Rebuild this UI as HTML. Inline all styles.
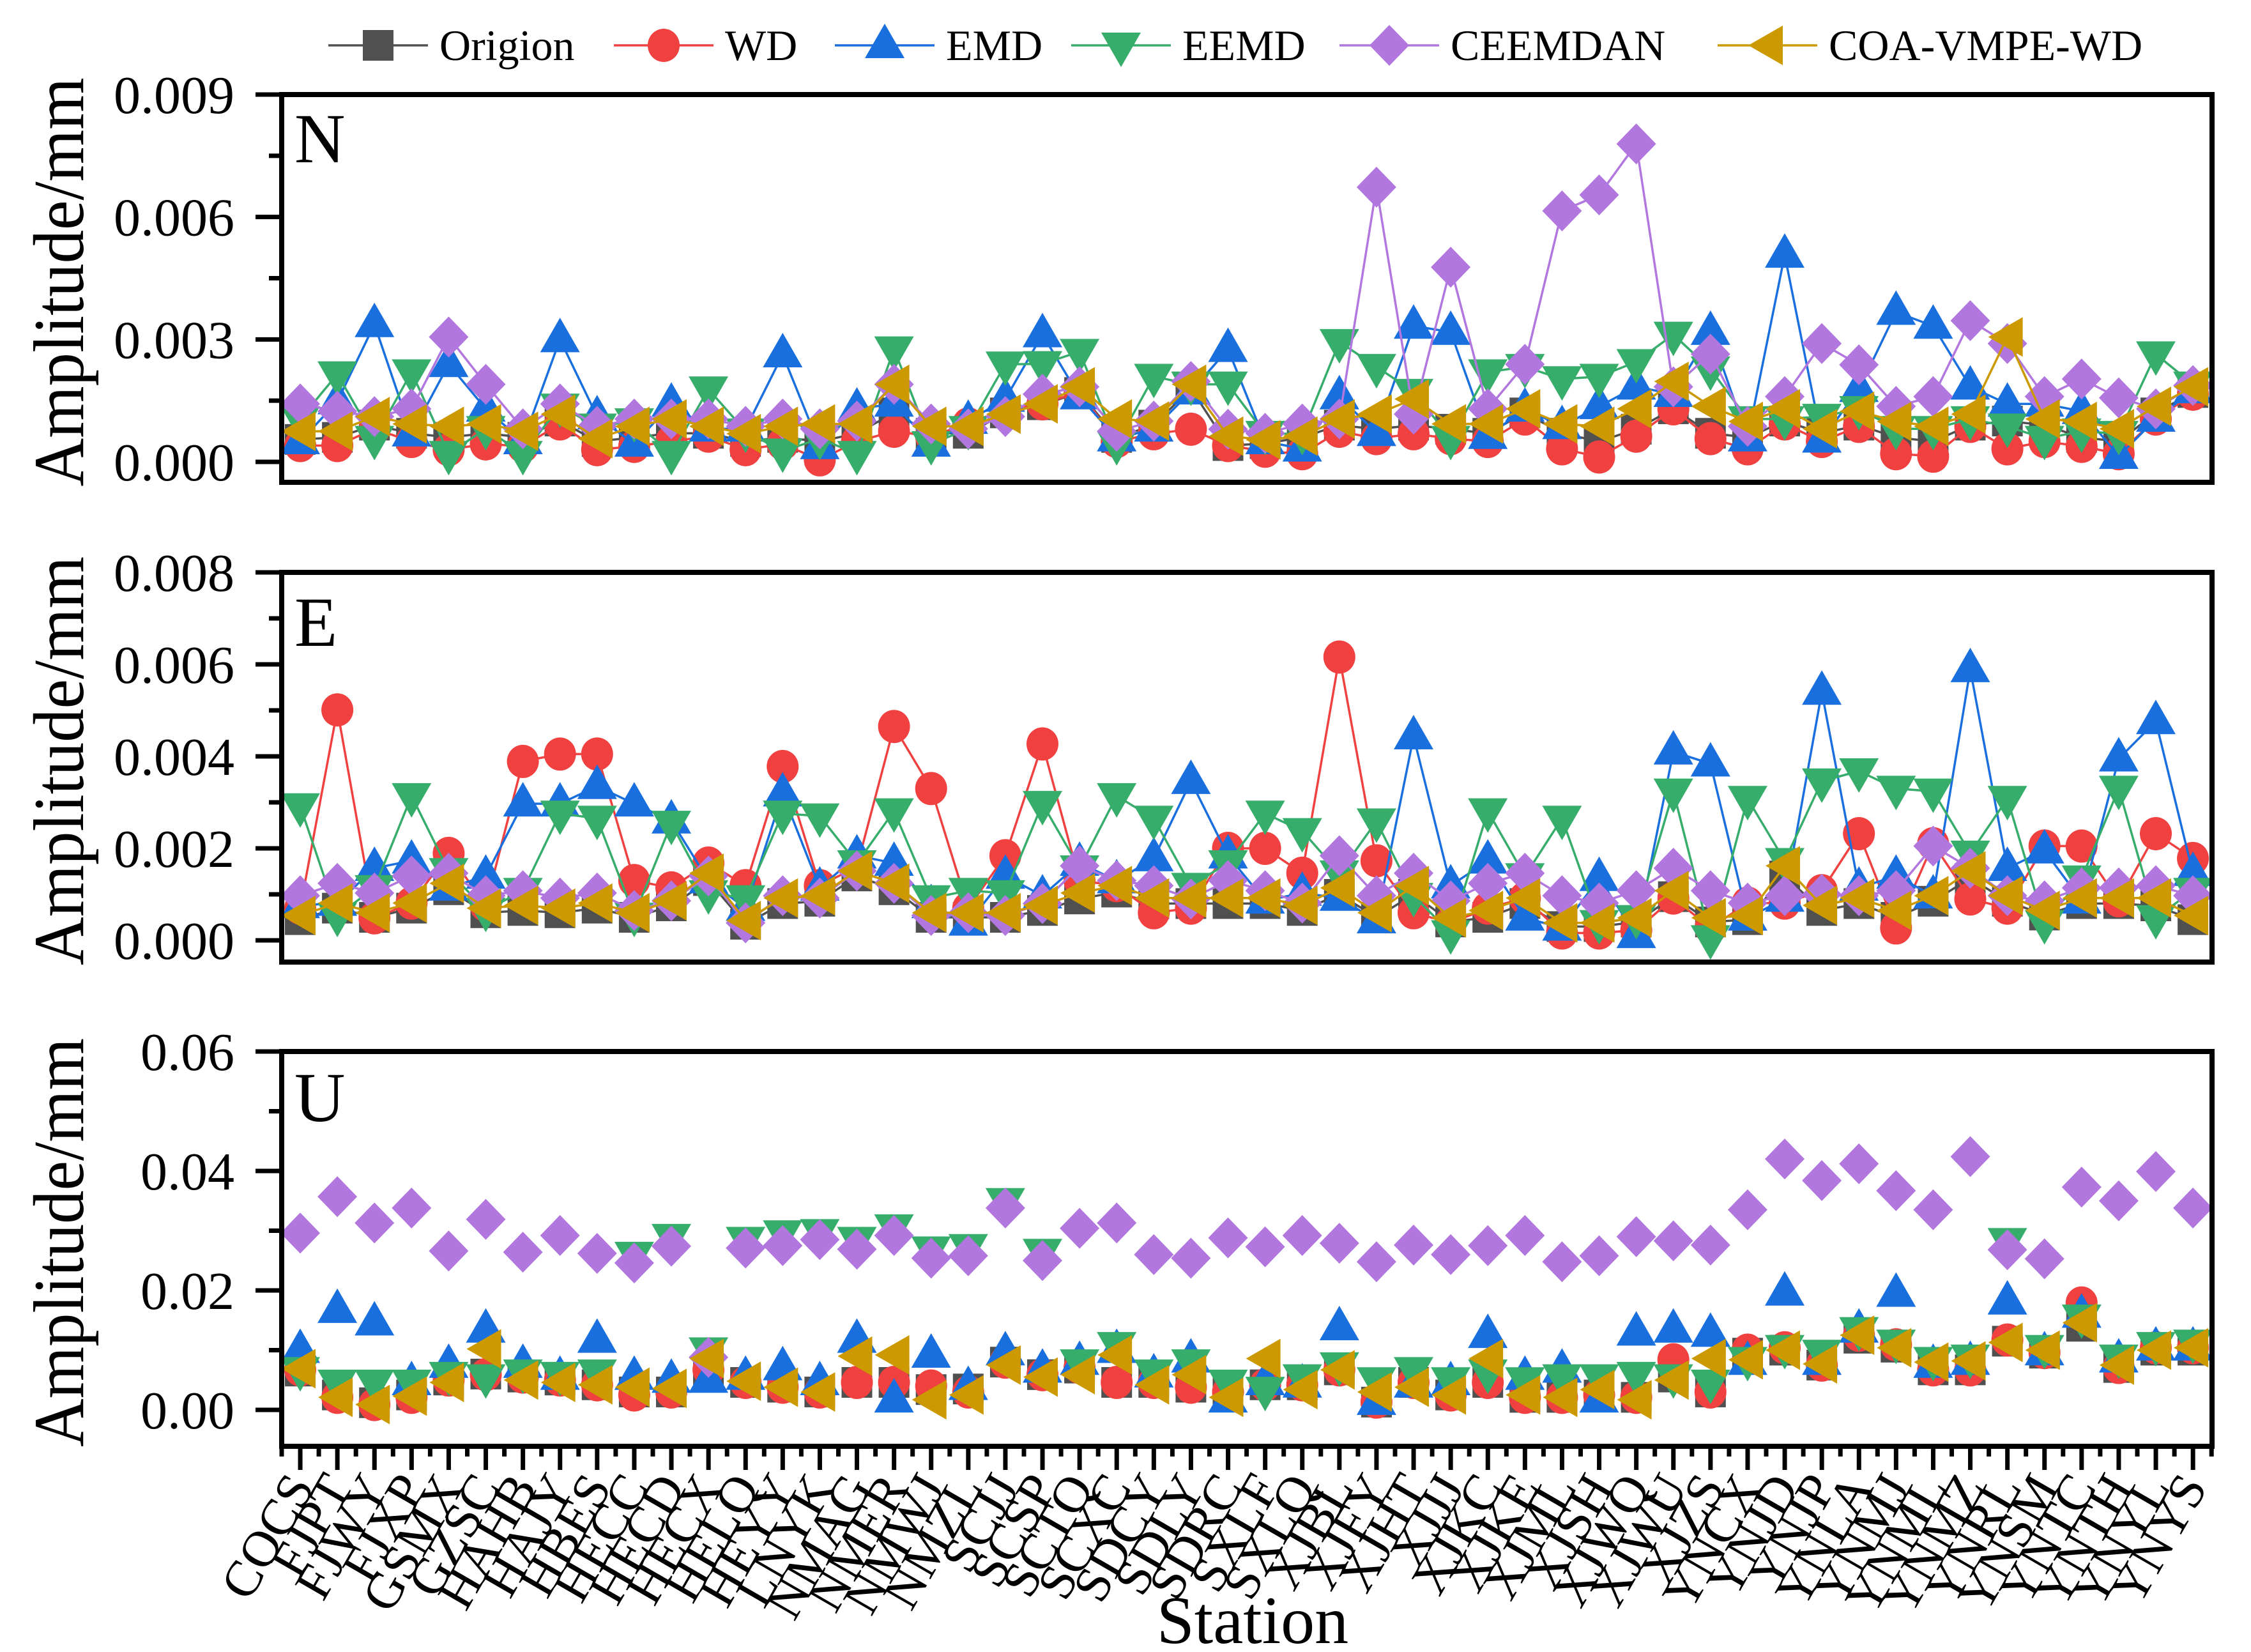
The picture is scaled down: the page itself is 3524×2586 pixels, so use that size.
<!DOCTYPE html>
<html><head><meta charset="utf-8"><title>Amplitude by station</title>
<style>
html,body{margin:0;padding:0;background:#fff;}
svg{display:block;font-family:"Liberation Serif","DejaVu Serif",serif;}
</style></head>
<body>
<svg id="chart" width="3524" height="2586" viewBox="0 0 3524 2586" xmlns="http://www.w3.org/2000/svg">
<rect x="0" y="0" width="3524" height="2586" fill="#fff"/>
<g id="legend"></g>
<g id="panels"></g>
<text x="1961" y="2572" font-size="106" text-anchor="middle">Station</text>
</svg>
<script>
const stations = ["COCS","FJPT","FJWY","FJXP","GSMX","GZSC","HAHB","HAJY","HBES","HECC","HECD","HECX","HELQ","HEYY","LNYK","NMAG","NMER","NMWJ","NMZL","SCJJ","SCSP","SCTQ","SCXC","SDCY","SDLY","SDRC","SXLF","SXLQ","XJBL","XJFY","XJHT","XJJJ","XJKC","XJKE","XJML","XJSH","XJWQ","XJWU","XJZS","YNCX","YNJD","YNJP","YNLA","YNMJ","YNML","YNMZ","YNRL","YNSM","YNTC","YNTH","YNYL","YNYS"];
const seriesNames = ["Origion","WD","EMD","EEMD","CEEMDAN","COA-VMPE-WD"];

// N panel values (x 1e-3 mm)
const nOrigin = [0.55,0.6,0.9,0.7,0.6,0.7,0.6,1.0,0.5,0.6,0.7,0.7,0.5,0.6,0.5,0.7,1.2,0.7,0.7,1.2,1.4,1.7,0.6,0.9,1.8,0.4,0.45,0.6,0.9,0.8,0.9,0.8,0.7,1.2,0.7,0.5,0.8,1.3,0.7,0.6,1.0,0.7,0.9,0.6,0.5,0.9,1.0,0.9,0.6,0.5,1.2,1.7];
const nWD = [0.4,0.4,0.81,0.5,0.3,0.44,0.38,0.93,0.3,0.38,0.5,0.63,0.3,0.44,0.05,0.5,0.75,0.63,0.93,1.3,1.42,1.72,0.5,0.69,0.8,0.4,0.26,0.2,0.75,0.57,0.69,0.57,0.5,1.05,0.32,0.12,0.63,1.3,0.57,0.32,0.93,0.5,0.87,0.2,0.14,0.87,0.32,0.5,0.38,0.2,1.05,1.66];
const nEMD = [0.5,1.48,3.37,0.69,2.39,1.3,0.5,3.0,1.11,0.44,1.42,0.81,0.81,2.63,0.38,1.3,1.42,0.44,1.0,1.54,3.12,1.6,0.57,0.81,1.72,2.76,0.5,0.32,1.6,0.7,3.33,3.18,0.63,1.3,0.87,1.36,1.84,1.66,3.18,0.57,5.07,0.54,1.78,3.67,3.33,1.84,1.42,1.42,1.24,0.14,1.05,1.75];
const nEEMD = [1.05,2.15,0.57,2.2,0.2,0.81,0.2,1.36,0.87,1.0,0.2,1.78,0.75,0.26,0.57,0.2,2.76,0.44,0.81,2.39,2.4,2.7,0.44,2.09,1.9,1.9,0.69,0.69,2.94,2.33,1.72,0.57,2.2,2.33,2.03,2.09,2.45,3.12,2.27,1.05,1.05,1.11,1.3,0.81,0.81,1.05,0.87,0.57,0.75,0.69,2.64,1.9];
const nCEEMDAN = [1.42,1.24,1.11,1.3,3.06,1.9,0.81,1.42,0.87,1.05,1.05,1.05,0.87,1.05,0.81,1.0,1.9,0.93,0.81,1.11,1.66,1.84,0.75,1.0,1.97,0.8,0.7,0.93,1.05,6.73,1.17,4.77,1.3,2.39,6.15,6.54,7.79,1.84,2.64,0.87,1.6,2.9,2.38,1.36,1.6,3.46,2.9,1.6,2.03,1.57,1.3,1.87];
const nCOA = [0.75,0.75,1.11,0.93,0.87,0.93,0.75,1.17,0.57,0.87,1.05,0.87,0.69,0.87,0.93,0.93,1.9,0.87,0.87,1.17,1.42,1.84,1.05,1.0,1.9,0.63,0.54,0.63,1.05,1.17,1.54,0.93,0.93,1.3,0.93,0.87,1.3,1.97,1.36,0.99,1.3,0.81,1.24,0.99,0.87,1.17,3.06,1.05,0.99,0.81,1.36,1.84];
const nTicks = ["0.000","0.003","0.006","0.009"];

// E panel values (x 1e-3 mm)
const eOrigin = [0.45,0.7,0.5,0.7,1.1,0.6,0.65,0.6,0.7,0.5,0.75,1.3,0.35,0.8,0.85,1.4,1.1,0.5,0.5,0.5,0.65,0.9,1.05,0.8,0.8,0.8,0.8,0.65,1.0,0.5,1.0,0.4,0.5,0.8,0.3,0.3,0.4,0.95,0.4,0.45,1.4,0.65,0.8,0.5,0.85,1.35,0.85,0.55,0.8,0.8,0.75,0.45];
const eWD = [0.7,5.01,0.49,0.81,1.89,0.76,3.89,4.05,4.05,1.3,1.14,1.68,1.19,3.78,1.19,1.6,4.65,3.3,0.7,1.84,4.27,1.3,1.19,0.6,0.7,2.0,2.0,1.46,6.16,1.73,0.6,0.38,0.7,0.92,0.16,0.16,0.22,0.92,0.27,0.81,0.81,1.08,2.32,0.27,2.1,0.9,0.7,2.05,2.05,0.86,2.32,1.78];
const eEMD = [0.76,0.81,1.57,1.73,1.14,1.4,2.97,2.97,3.35,2.97,2.6,1.3,0.7,3.19,1.14,1.84,1.68,0.76,0.38,1.4,0.97,1.68,1.3,1.78,3.46,1.84,0.86,1.03,0.92,0.43,4.43,1.19,1.73,0.49,0.27,1.35,0.11,4.1,3.84,0.49,0.9,5.4,1.14,1.4,0.97,5.89,1.57,1.95,0.86,3.95,4.76,1.46];
const eEEMD = [2.92,0.54,1.14,3.14,1.51,0.65,1.08,2.76,2.65,0.54,2.54,1.03,0.92,2.76,2.7,1.68,2.81,0.92,1.08,1.03,2.97,1.57,3.14,2.65,1.19,1.68,2.76,2.38,1.46,2.59,0.97,0.16,2.81,1.4,2.65,0.38,0.49,3.24,0.05,3.08,1.73,3.46,3.68,3.3,3.24,1.89,3.08,0.38,1.35,3.3,0.49,1.08];
const eCEEMDAN = [0.97,1.24,1.03,1.4,1.46,0.97,1.08,0.92,1.03,0.65,0.86,1.4,0.38,0.97,0.92,1.51,1.24,0.54,0.6,0.54,0.8,1.62,1.3,1.19,0.9,1.3,1.08,0.81,1.84,0.97,1.46,0.86,1.24,1.46,0.97,0.81,1.08,1.57,1.08,0.81,0.97,1.0,0.97,1.08,2.05,1.57,0.97,0.86,1.14,1.14,1.19,0.97];
const eCOA = [0.54,0.81,0.6,0.81,1.24,0.7,0.76,0.7,0.81,0.6,0.86,1.46,0.43,0.92,0.97,1.51,1.24,0.6,0.6,0.6,0.76,1.03,1.19,0.92,0.92,0.92,0.92,0.76,1.14,0.6,1.19,0.49,0.65,0.92,0.38,0.38,0.49,1.08,0.49,0.54,1.62,0.76,0.92,0.65,0.97,1.51,0.97,0.65,0.92,0.92,0.92,0.54];
const eTicks = ["0.000","0.002","0.004","0.006","0.008"];

// U panel values (x 1e-2 mm)
const uOrigin = [0.65,0.25,0.12,0.25,0.5,0.6,0.55,0.5,0.42,0.3,0.3,0.6,0.46,0.38,0.3,0.46,0.46,0.34,0.35,0.8,0.59,0.7,0.46,0.46,0.38,0.3,0.42,0.42,0.67,0.13,0.46,0.25,0.46,0.21,0.21,0.25,0.21,0.55,0.3,0.95,1.0,0.75,1.2,1.05,0.67,0.67,1.15,0.95,1.4,0.71,1.0,1.0];
const uWD = [0.67,0.21,0.09,0.21,0.5,0.59,0.55,0.5,0.42,0.25,0.3,0.67,0.46,0.38,0.3,0.46,0.46,0.4,0.3,0.8,0.59,0.71,0.46,0.46,0.38,0.3,0.42,0.42,0.67,0.13,0.46,0.25,0.46,0.21,0.21,0.25,0.21,0.84,0.3,1.0,1.04,0.75,1.25,1.09,0.67,0.67,1.17,0.96,1.79,0.71,1.04,1.04];
const uEMD = [1.0,1.67,1.46,0.46,0.75,1.34,0.75,0.55,1.17,0.55,0.5,0.5,0.55,0.71,0.46,1.17,0.17,0.92,0.38,0.96,0.67,0.8,1.0,0.59,0.84,0.17,0.46,0.42,1.38,0.13,0.42,0.46,1.25,0.55,0.67,0.17,1.29,1.34,1.27,0.8,1.96,0.8,1.34,1.94,0.75,0.8,1.81,0.96,1.59,0.84,1.04,1.04];
const uEEMD = [0.67,0.46,0.46,0.46,0.59,0.55,0.63,0.59,0.63,2.6,2.9,1.0,2.85,2.96,2.98,2.85,3.06,2.69,2.73,3.5,2.65,0.8,1.09,0.63,0.8,0.46,0.34,0.55,0.75,0.5,0.67,0.5,0.63,0.5,0.55,0.55,0.59,0.55,0.46,0.84,1.04,0.96,1.34,1.13,0.84,0.88,2.83,1.04,1.55,0.88,1.09,1.13];
const uCEEMDAN = [2.96,3.57,3.13,3.38,2.66,3.19,2.64,2.92,2.62,2.46,2.74,0.88,2.71,2.75,2.85,2.69,2.92,2.54,2.58,3.38,2.5,3.04,3.13,2.6,2.54,2.88,2.73,2.92,2.79,2.48,2.76,2.6,2.75,2.92,2.48,2.58,2.9,2.83,2.76,3.35,4.2,3.84,4.12,3.67,3.35,4.24,2.68,2.53,3.73,3.5,3.99,3.38];
const uCOA = [0.69,0.21,0.09,0.23,0.46,1.02,0.5,0.46,0.42,0.38,0.36,0.86,0.48,0.38,0.3,0.9,0.92,0.17,0.25,0.75,0.55,0.59,0.92,0.42,0.59,0.21,0.86,0.34,0.67,0.3,0.38,0.25,0.86,0.25,0.21,0.34,0.17,0.5,0.86,0.84,1.0,0.77,1.25,1.04,0.8,0.82,1.13,1.0,1.46,0.75,1.0,1.04];
const uTicks = ["0.00","0.02","0.04","0.06"];

const NS = "http://www.w3.org/2000/svg";
const colors = ["#505050","#F04040","#1A6FDF","#37AD6B","#B177DE","#CC9900"];
const shapes = ["square","circle","up","down","diamond","left"];
const plotL = 441, plotR = 3463;
function xPos(i){ return 470 + 58.1 * i; }
function mk(tag, attrs, parent){ const e = document.createElementNS(NS, tag); for (const k in attrs) e.setAttribute(k, attrs[k]); parent.appendChild(e); return e; }

function marker(shape, cx, cy, color, parent){
  let e;
  if (shape === "square") e = mk("rect", {x:cx-24, y:cy-24, width:48, height:48, fill:color}, parent);
  else if (shape === "circle") e = mk("ellipse", {cx:cx, cy:cy, rx:25, ry:26, fill:color}, parent);
  else if (shape === "up") e = mk("polygon", {points:`${cx},${cy-34} ${cx+31},${cy+20} ${cx-31},${cy+20}`, fill:color}, parent);
  else if (shape === "down") e = mk("polygon", {points:`${cx},${cy+34} ${cx+31},${cy-20} ${cx-31},${cy-20}`, fill:color}, parent);
  else if (shape === "diamond") e = mk("polygon", {points:`${cx},${cy-32} ${cx+31},${cy} ${cx},${cy+32} ${cx-31},${cy}`, fill:color}, parent);
  else e = mk("polygon", {points:`${cx-30},${cy} ${cx+24},${cy-31} ${cx+24},${cy+31}`, fill:color}, parent);
  return e;
}

const panels = [
  {key:"n", label:"N", top:148, bottom:755, zeroY:723, maxY:148, maxVal:9, majorStep:3, minorStep:1.5, ticks:nTicks, series:[nOrigin,nWD,nEMD,nEEMD,nCEEMDAN,nCOA], lines:true, letterY:254, xticks:false},
  {key:"e", label:"E", top:896, bottom:1506, zeroY:1472, maxY:896, maxVal:8, majorStep:2, minorStep:1, ticks:eTicks, series:[eOrigin,eWD,eEMD,eEEMD,eCEEMDAN,eCOA], lines:true, letterY:1011, xticks:false},
  {key:"u", label:"U", top:1646, bottom:2264, zeroY:2207, maxY:1646, maxVal:6, majorStep:2, minorStep:1, ticks:uTicks, series:[uOrigin,uWD,uEMD,uEEMD,uCEEMDAN,uCOA], lines:false, letterY:1755, xticks:true}
];

const root = document.getElementById("panels");
panels.forEach(p => {
  const yPos = v => p.zeroY - v / p.maxVal * (p.zeroY - p.maxY);
  const g = mk("g", {}, root);
  
  
  for (let v = 0; v <= p.maxVal + 1e-9; v += p.minorStep) {
    const isMajor = Math.abs(v / p.majorStep - Math.round(v / p.majorStep)) < 1e-6;
    const t = mk("line", {x1: plotL - (isMajor ? 41 : 20), x2: plotL, y1: yPos(v), y2: yPos(v), stroke:"#000", "stroke-width":7}, g);
    
    
  }
  p.ticks.forEach((lab, k) => {
    const tx = mk("text", {x:367, y:yPos(k * p.majorStep) + 29, "font-size":84, "text-anchor":"end"}, g);
    tx.textContent = lab;
    
    
  });
  const yt = mk("text", {x:0, y:0, "font-size":112, "text-anchor":"middle", textLength:640, lengthAdjust:"spacingAndGlyphs", transform:`translate(130 ${(p.top + p.bottom) / 2 - 10}) rotate(-90)`}, g);
  yt.textContent = "Amplitude/mm";
  
  
  p.series.forEach((vals, s) => {
    const sg = mk("g", {}, g);
    
    
    if (p.lines) {
      const pts = vals.map((v, i) => `${xPos(i)},${yPos(v)}`).join(" ");
      const pl = mk("polyline", {points:pts, fill:"none", stroke:colors[s], "stroke-width":3.5}, sg);
      
      
    }
    vals.forEach((v, i) => {
      const m = marker(shapes[s], xPos(i), yPos(v), colors[s], sg);
      
      
    });
  });
  const letter = mk("text", {x:461, y:p.letterY, "font-size":110}, g);
  letter.textContent = p.label;
  
  
  const fr = mk("rect", {x:plotL, y:p.top, width:plotR - plotL, height:p.bottom - p.top, fill:"none", stroke:"#000", "stroke-width":8}, g);
  
  
  if (p.xticks) {
    for (let k = 0; k <= 2 * stations.length + 1; k++) {
      const x = plotL + 29.05 * k;
      if (x > plotR) break;
      const major = k % 2 === 1;
      const t = mk("line", {x1:x, x2:x, y1:p.bottom, y2:p.bottom + (major ? 37 : 16), stroke:"#000", "stroke-width":7}, g);
      
      
    }
    stations.forEach((st, i) => {
      const tx = mk("text", {x:0, y:0, "font-size":80, "text-anchor":"end", transform:`translate(${xPos(i) + 24} ${p.bottom + 64}) rotate(-60)`}, g);
      tx.textContent = st;
      
      
    });
  }
});

const legendMarkerX = [592, 1039, 1385, 1755, 2175, 2767];
const lg = document.getElementById("legend");
seriesNames.forEach((nm, s) => {
  const cx = legendMarkerX[s], cy = 71;
  const item = mk("g", {}, lg);
  
  
  mk("line", {x1:cx - 78, x2:cx + 78, y1:cy, y2:cy, stroke:colors[s], "stroke-width":3.5}, item);
  marker(shapes[s], cx, cy, colors[s], item);
  const t = mk("text", {x:cx + 96, y:cy + 23, "font-size":68}, item);
  t.textContent = nm;
});
</script>
</body></html>
